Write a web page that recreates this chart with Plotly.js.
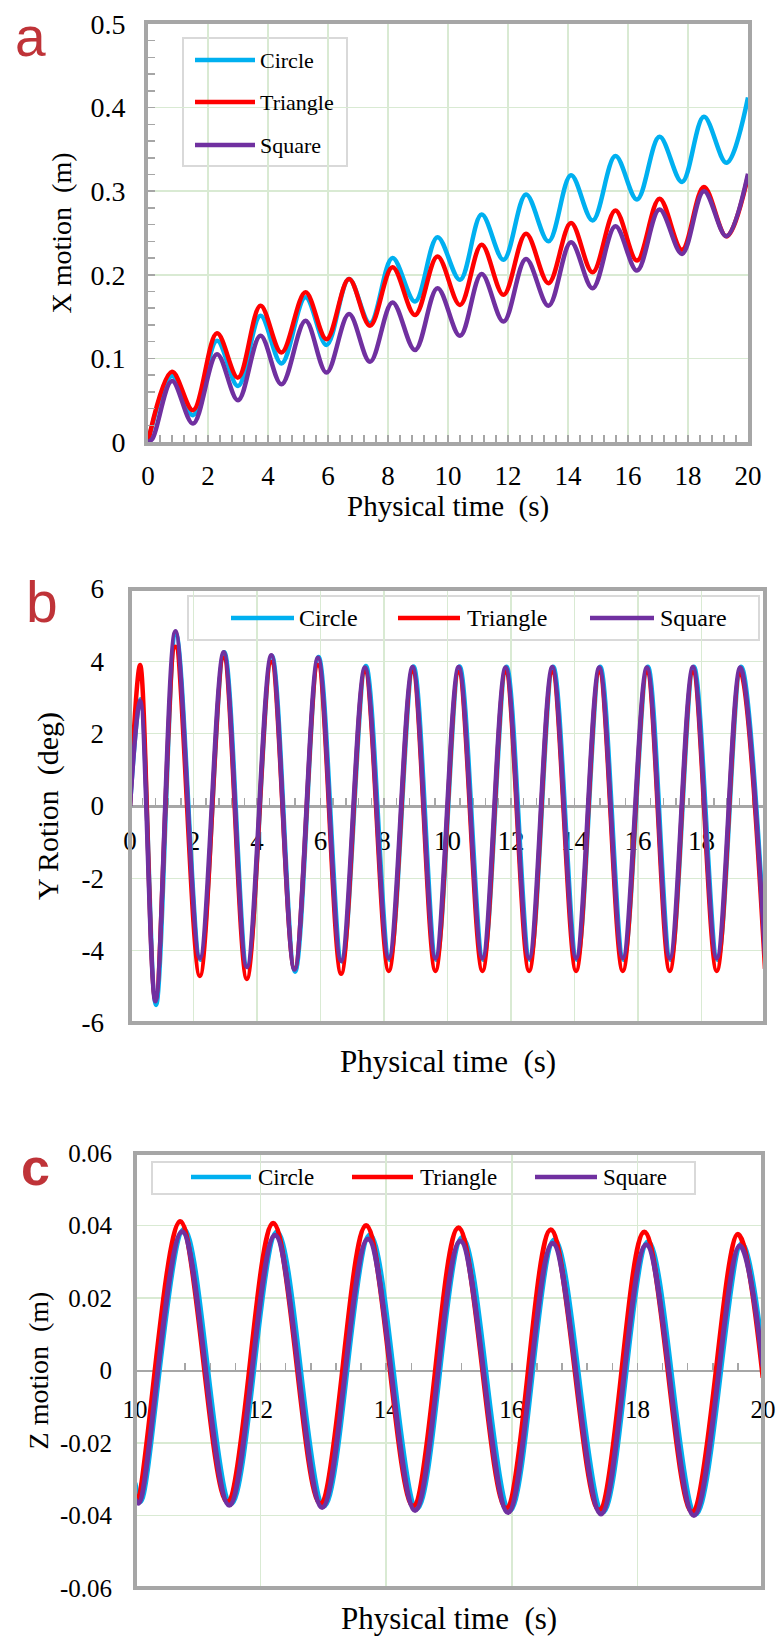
<!DOCTYPE html>
<html><head><meta charset="utf-8">
<script src="https://cdn.plot.ly/plotly-3.0.1.min.js"></script>
<style>html,body{margin:0;padding:0;background:#fff}#chart{width:776px;height:1636px}</style>
</head><body><div id="chart"></div>
<script>
// ---------------- data ----------------
const seriesNames = ['Circle', 'Triangle', 'Square'];
const seriesColors = ['#00b0f0', '#ff0000', '#7030a0'];

// (a) X motion (m) vs physical time (s)
const timeA = [0, 0.8, 1.5, 2.3, 3.0, 3.75, 4.45, 5.25, 5.95, 6.7, 7.4, 8.15, 8.9, 9.65, 10.4, 11.12, 11.85, 12.6, 13.35, 14.1, 14.82, 15.58, 16.3, 17.05, 17.8, 18.53, 19.28, 20];
const circleA = [0, 0.079, 0.032, 0.121, 0.067, 0.151, 0.094, 0.173, 0.116, 0.195, 0.142, 0.220, 0.168, 0.245, 0.194, 0.272, 0.218, 0.296, 0.240, 0.319, 0.265, 0.342, 0.290, 0.365, 0.311, 0.389, 0.334, 0.412];
const triangleA = [0, 0.084, 0.038, 0.130, 0.077, 0.163, 0.107, 0.179, 0.123, 0.195, 0.139, 0.209, 0.152, 0.222, 0.164, 0.236, 0.176, 0.249, 0.190, 0.262, 0.203, 0.277, 0.217, 0.291, 0.230, 0.305, 0.246, 0.318];
const squareTimeA = [0, 0.15, 0.8, 1.5, 2.3, 3.0, 3.75, 4.45, 5.25, 5.95, 6.7, 7.4, 8.15, 8.9, 9.65, 10.4, 11.12, 11.85, 12.6, 13.35, 14.1, 14.82, 15.58, 16.3, 17.05, 17.8, 18.53, 19.28, 20];
const squareA = [0, 0.004, 0.073, 0.022, 0.105, 0.050, 0.127, 0.069, 0.145, 0.083, 0.153, 0.096, 0.167, 0.110, 0.184, 0.127, 0.201, 0.144, 0.219, 0.163, 0.239, 0.184, 0.258, 0.205, 0.278, 0.225, 0.300, 0.246, 0.321];
const yTickValsA = [0, 0.1, 0.2, 0.3, 0.4, 0.5];
const yTickTextA = ['0', '0.1', '0.2', '0.3', '0.4', '0.5'];
const xTickValsA = [0, 2, 4, 6, 8, 10, 12, 14, 16, 18, 20];

// (b) Y rotation (deg) vs physical time (s)
const timeB = [0, 0.32, 0.8, 1.43, 2.2, 2.95, 3.68, 4.45, 5.18, 5.92, 6.65, 7.4, 8.15, 8.9, 9.62, 10.35, 11.1, 11.83, 12.57, 13.3, 14.05, 14.78, 15.52, 16.28, 17.0, 17.73, 18.48, 19.22, 20];
const circleTimeB = [0, 0.33, 0.82, 1.45, 2.22, 2.97, 3.7, 4.47, 5.2, 5.94, 6.68, 7.43, 8.18, 8.93, 9.65, 10.38, 11.13, 11.86, 12.6, 13.33, 14.08, 14.81, 15.55, 16.31, 17.03, 17.76, 18.51, 19.25, 20];
const circleB = [0, 2.95, -5.5, 4.75, -4.25, 4.25, -4.45, 4.15, -4.58, 4.12, -4.3, 3.87, -4.25, 3.86, -4.25, 3.86, -4.25, 3.85, -4.25, 3.85, -4.25, 3.85, -4.25, 3.85, -4.25, 3.85, -4.25, 3.85, -3.9];
const triangleB = [0, 3.9, -5.35, 4.4, -4.7, 4.1, -4.78, 3.98, -4.5, 3.9, -4.64, 3.72, -4.56, 3.72, -4.56, 3.7, -4.56, 3.7, -4.56, 3.7, -4.56, 3.7, -4.56, 3.7, -4.56, 3.7, -4.56, 3.7, -4.5];
const squareB = [0, 2.9, -5.4, 4.83, -4.2, 4.25, -4.45, 4.17, -4.52, 4.1, -4.28, 3.83, -4.2, 3.84, -4.2, 3.84, -4.2, 3.83, -4.2, 3.84, -4.2, 3.83, -4.2, 3.83, -4.2, 3.84, -4.2, 3.83, -4.15];
const yTickValsB = [-6, -4, -2, 0, 2, 4, 6];
const yTickTextB = ['-6', '-4', '-2', '0', '2', '4', '6'];
const xTickValsB = [0, 2, 4, 6, 8, 10, 12, 14, 16, 18, 20];

// (c) Z motion (m) vs physical time (s)
const circleTimeC = [10, 10.09, 10.78, 11.53, 12.26, 13.01, 13.74, 14.49, 15.21, 15.97, 16.68, 17.45, 18.17, 18.93, 19.66, 20];
const circleC = [-0.031, -0.0362, 0.0390, -0.0368, 0.0382, -0.0374, 0.0374, -0.0381, 0.0367, -0.0386, 0.0361, -0.0391, 0.0355, -0.0396, 0.0350, 0.004];
const triangleTimeC = [10, 10.04, 10.72, 11.47, 12.2, 12.95, 13.68, 14.43, 15.15, 15.91, 16.62, 17.39, 18.11, 18.87, 19.6, 20];
const triangleC = [-0.0345, -0.0352, 0.0411, -0.0362, 0.0406, -0.0367, 0.0400, -0.0374, 0.0394, -0.0380, 0.0388, -0.0385, 0.0382, -0.0390, 0.0376, -0.002];
const squareTimeC = [10, 10.06, 10.75, 11.5, 12.23, 12.98, 13.71, 14.46, 15.18, 15.94, 16.65, 17.42, 18.14, 18.9, 19.63, 20];
const squareC = [-0.0355, -0.0366, 0.0383, -0.0372, 0.0373, -0.0378, 0.0363, -0.0386, 0.0357, -0.0392, 0.0351, -0.0396, 0.0347, -0.0400, 0.0344, 0.001];
const yTickValsC = [-0.06, -0.04, -0.02, 0, 0.02, 0.04, 0.06];
const yTickTextC = ['-0.06', '-0.04', '-0.02', '0', '0.02', '0.04', '0.06'];
const xTickValsC = [10, 12, 14, 16, 18, 20];

const panelLabels = ['a', 'b', 'c'];
const xTitle = 'Physical time\u00a0 (s)';
const yTitles = ['X motion\u00a0 (m)', 'Y Rotion\u00a0 (deg)', 'Z motion\u00a0 (m)'];

// ---------------- layout helpers ----------------
const W = 776, H = 1636;
const px = v => v / W;
const py = v => 1 - v / H;
const SERIF = 'Liberation Serif';
const SANS = 'Liberation Sans';
const FRAME = '#a6a6a6';
const GRID = '#d9ead3';
const LABEL_RED = '#bf3338';

const minorTicks = dt => ({ dtick: dt, ticks: 'inside', ticklen: 7, tickwidth: 1.5, tickcolor: FRAME, showgrid: false });

// ---------------- traces ----------------
const traces = [];
function addSeries(xs, ys, i, xa, ya, width) {
  traces.push({
    type: 'scatter', mode: 'lines', name: seriesNames[i],
    x: xs, y: ys, xaxis: xa, yaxis: ya, showlegend: false,
    line: { color: seriesColors[i], width: width, shape: 'spline', smoothing: 1 }
  });
}
addSeries(timeA, circleA, 0, 'x', 'y', 4.5);
addSeries(timeA, triangleA, 1, 'x', 'y', 4.5);
addSeries(squareTimeA, squareA, 2, 'x', 'y', 4.5);

addSeries(circleTimeB, circleB, 0, 'x2', 'y2', 4.5);
addSeries(timeB, triangleB, 1, 'x2', 'y2', 4.5);
addSeries(timeB, squareB, 2, 'x2', 'y2', 4.5);

addSeries(circleTimeC, circleC, 0, 'x3', 'y3', 5);
addSeries(triangleTimeC, triangleC, 1, 'x3', 'y3', 5);
addSeries(squareTimeC, squareC, 2, 'x3', 'y3', 5);

// ---------------- domains ----------------
const domA = { x: [px(148), px(748)], y: [py(442), py(24)] };
const domB = { x: [px(130), px(765)], y: [py(1023), py(589)] };
const domC = { x: [px(135), px(763)], y: [py(1588), py(1153)] };
const rangeB = [-6, 6], rangeC = [-0.06, 0.06];
const zeroPos = (dom, r) => dom.y[0] + (0 - r[0]) / (r[1] - r[0]) * (dom.y[1] - dom.y[0]);

const layout = {
  width: W, height: H, autosize: false,
  margin: { l: 0, r: 0, t: 0, b: 0 },
  paper_bgcolor: '#ffffff', plot_bgcolor: '#ffffff',
  font: { family: SERIF, color: '#000', size: 26 },
  showlegend: false,
  // ---- panel a ----
  xaxis: {
    domain: domA.x, anchor: 'y', range: [0, 20], fixedrange: true,
    showline: true, linecolor: FRAME, linewidth: 4, mirror: true,
    showgrid: true, gridcolor: GRID, gridwidth: 1.5, zeroline: false,
    tickmode: 'array', tickvals: xTickValsA,
    ticks: 'inside', ticklen: 7, tickwidth: 1.5, tickcolor: FRAME,
    minor: minorTicks(0.4),
    tickfont: { family: SERIF, size: 27, color: '#000' }, ticklabelstandoff: 7
  },
  yaxis: {
    domain: domA.y, anchor: 'x', range: [0, 0.5], fixedrange: true,
    showline: true, linecolor: FRAME, linewidth: 4, mirror: true,
    showgrid: true, gridcolor: GRID, gridwidth: 1.5, zeroline: false,
    tickmode: 'array', tickvals: yTickValsA, ticktext: yTickTextA,
    ticks: 'inside', ticklen: 7, tickwidth: 1.5, tickcolor: FRAME,
    minor: minorTicks(0.02),
    tickfont: { family: SERIF, size: 28, color: '#000' }, ticklabelstandoff: 13,
    title: { text: yTitles[0], font: { family: SERIF, size: 28, color: '#000' }, standoff: 12 }
  },
  // ---- panel b : x axis sits on the zero line ----
  xaxis2: {
    domain: domB.x, anchor: 'free', position: zeroPos(domB, rangeB), side: 'bottom',
    range: [0, 20], fixedrange: true, tickmode: 'array', tickvals: xTickValsB,
    showgrid: true, gridcolor: GRID, gridwidth: 1.5, zeroline: false,
    showline: true, linecolor: FRAME, linewidth: 2.5, layer: 'below traces',
    ticks: 'inside', ticklen: 7, tickwidth: 1.5, tickcolor: FRAME,
    minor: minorTicks(0.4),
    tickfont: { family: SERIF, size: 27, color: '#000' }, ticklabelstandoff: 10
  },
  yaxis2: {
    domain: domB.y, anchor: 'x2', range: rangeB, fixedrange: true,
    showline: false, showgrid: true, gridcolor: GRID, gridwidth: 1.5, zeroline: false,
    tickmode: 'array', tickvals: yTickValsB, ticktext: yTickTextB,
    ticks: '', tickfont: { family: SERIF, size: 27, color: '#000' }, ticklabelstandoff: 25,
    title: { text: yTitles[1], font: { family: SERIF, size: 30, color: '#000' }, standoff: 14 }
  },
  // ---- panel c : x axis sits on the zero line ----
  xaxis3: {
    domain: domC.x, anchor: 'free', position: zeroPos(domC, rangeC), side: 'bottom',
    range: [10, 20], fixedrange: true, tickmode: 'array', tickvals: xTickValsC,
    showgrid: true, gridcolor: GRID, gridwidth: 1.5, zeroline: false,
    showline: true, linecolor: FRAME, linewidth: 2.5, layer: 'below traces',
    ticks: 'inside', ticklen: 7, tickwidth: 1.5, tickcolor: FRAME,
    minor: minorTicks(0.4),
    tickfont: { family: SERIF, size: 25, color: '#000' }, ticklabelstandoff: 16
  },
  yaxis3: {
    domain: domC.y, anchor: 'x3', range: rangeC, fixedrange: true,
    showline: false, showgrid: true, gridcolor: GRID, gridwidth: 1.5, zeroline: false,
    tickmode: 'array', tickvals: yTickValsC, ticktext: yTickTextC,
    ticks: '', tickfont: { family: SERIF, size: 25, color: '#000' }, ticklabelstandoff: 22,
    title: { text: yTitles[2], font: { family: SERIF, size: 28, color: '#000' }, standoff: 3 }
  },
  shapes: [],
  annotations: []
};

// x-axis titles (below each panel) and frames for b, c
[['x', 507, 29], ['x2', 1061, 31], ['x3', 1618, 31]].forEach(([xa, ty, fs]) => {
  layout.annotations.push({ xref: xa + ' domain', yref: 'paper', x: 0.5, y: py(ty),
    xanchor: 'center', yanchor: 'middle', showarrow: false, text: xTitle,
    font: { family: SERIF, size: fs, color: '#000' } });
});
[['x2', 'y2'], ['x3', 'y3']].forEach(([xa, ya]) => {
  layout.shapes.push({ type: 'rect', xref: xa + ' domain', yref: ya + ' domain',
    x0: 0, x1: 1, y0: 0, y1: 1, layer: 'above', line: { color: FRAME, width: 4 } });
});

// ---------------- custom legends ----------------
function legendBox(x0, x1, y0, y1) {
  layout.shapes.push({ type: 'rect', xref: 'paper', yref: 'paper', layer: 'between',
    x0: px(x0), x1: px(x1), y0: py(y1), y1: py(y0),
    fillcolor: '#ffffff', line: { color: '#d9d9d9', width: 2 } });
}
function legendEntry(i, lx0, lx1, ly, tx, size) {
  layout.shapes.push({ type: 'line', xref: 'paper', yref: 'paper',
    x0: px(lx0), x1: px(lx1), y0: py(ly), y1: py(ly),
    line: { color: seriesColors[i], width: 4.5 } });
  layout.annotations.push({ xref: 'paper', yref: 'paper', x: px(tx), y: py(ly),
    xanchor: 'left', yanchor: 'middle', showarrow: false, text: seriesNames[i],
    font: { family: SERIF, size: size, color: '#000' } });
}
// a: vertical legend
legendBox(183, 347, 38, 166);
legendEntry(0, 195, 255, 60, 258, 22);
legendEntry(1, 195, 255, 102, 258, 22);
legendEntry(2, 195, 255, 145, 258, 22);
// b: horizontal legend
legendBox(188, 759, 596, 640);
legendEntry(0, 231, 294, 618, 297, 24);
legendEntry(1, 398, 460, 618, 465, 24);
legendEntry(2, 590, 654, 618, 658, 24);
// c: horizontal legend
legendBox(152, 695, 1162, 1194);
legendEntry(0, 191, 251, 1177, 256, 23);
legendEntry(1, 352, 413, 1177, 418, 23);
legendEntry(2, 535, 597, 1177, 601, 23);

// ---------------- panel letters ----------------
function panelLetter(t, x, y, size, bold) {
  layout.annotations.push({ xref: 'paper', yref: 'paper', x: px(x), y: py(y),
    xanchor: 'left', yanchor: 'middle', showarrow: false,
    text: bold ? '<b>' + t + '</b>' : t,
    font: { family: SANS, size: size, color: LABEL_RED } });
}
panelLetter(panelLabels[0], 13, 37, 55, false);
panelLetter(panelLabels[1], 24, 602, 57, false);
panelLetter(panelLabels[2], 19, 1167, 52, true);

Plotly.newPlot('chart', traces, layout, { staticPlot: true, displayModeBar: false });
</script>
</body></html>
